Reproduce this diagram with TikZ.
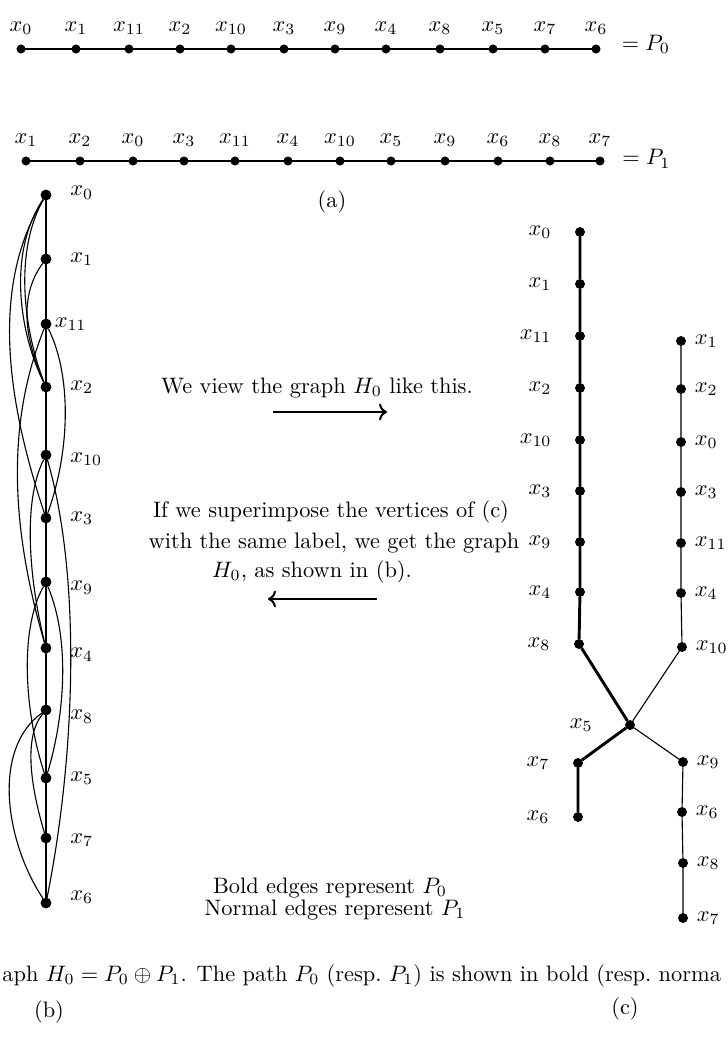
\documentclass[tikz,border=0pt]{standalone}
\usepackage{amsmath, amssymb}
\usepackage{tikz}
\usetikzlibrary{arrows.meta, positioning, calc}

\tikzset{
    dot/.style={draw, circle, fill, inner sep=0pt, minimum size=3.6pt},
    bdot/.style={dot, minimum size=4.4pt},
    cdot/.style={dot, minimum size=4pt},
    bedge/.style={line width=1.3pt},
    nedge/.style={line width=0.5pt},
}

\begin{document}
\begin{tikzpicture}[x=0.447pt, y=-0.447pt]
    \useasboundingbox (0,0) rectangle (728,1044);

    % (a) path P0
    \begin{scope}[label distance=1pt]
    \node[dot, label=above:$x_0$] (u0) at (21,49) {};
    \node[dot, label=above:$x_1$] (u1) at (76,49) {};
    \node[dot, label=above:$x_{11}$] (u11) at (129,49) {};
    \node[dot, label=above:$x_2$] (u2) at (180,49) {};
    \node[dot, label=above:$x_{10}$] (u10) at (231,49) {};
    \node[dot, label=above:$x_3$] (u3) at (284,49) {};
    \node[dot, label=above:$x_9$] (u9) at (335,49) {};
    \node[dot, label=above:$x_4$] (u4) at (386,49) {};
    \node[dot, label=above:$x_8$] (u8) at (440,49) {};
    \node[dot, label=above:$x_5$] (u5) at (493,49) {};
    \node[dot, label=above:$x_7$] (u7) at (545,49) {};
    \node[dot, label=above:$x_6$] (u6) at (596,49) {};
    \end{scope}
    \node[right=6pt of u6, yshift=2pt] (eq0) {$=P_0$};
    \draw[bedge] (u0) -- (u1) -- (u11) -- (u2) -- (u10) -- (u3) -- (u9)
        -- (u4) -- (u8) -- (u5) -- (u7) -- (u6);

    % (a) path P1
    \begin{scope}[label distance=1pt]
    \node[dot, label=above:$x_1$] (v1) at (26,161) {};
    \node[dot, label=above:$x_2$] (v2) at (80,161) {};
    \node[dot, label=above:$x_0$] (v0) at (133,161) {};
    \node[dot, label=above:$x_3$] (v3) at (184,161) {};
    \node[dot, label=above:$x_{11}$] (v11) at (235,161) {};
    \node[dot, label=above:$x_4$] (v4) at (288,161) {};
    \node[dot, label=above:$x_{10}$] (v10) at (340,161) {};
    \node[dot, label=above:$x_5$] (v5) at (391,161) {};
    \node[dot, label=above:$x_9$] (v9) at (445,161) {};
    \node[dot, label=above:$x_6$] (v6) at (498,161) {};
    \node[dot, label=above:$x_8$] (v8) at (550,161) {};
    \node[dot, label=above:$x_7$] (v7) at (600,161) {};
    \end{scope}
    \node[right=4.5pt of v7, yshift=1pt] (eq1) {$=P_1$};
    \draw[line width=0.8pt] (v1) -- (v2) -- (v0) -- (v3) -- (v11) -- (v4) -- (v10)
        -- (v5) -- (v9) -- (v6) -- (v8) -- (v7);
    \node (capa) at (332,202) {(a)};

    % (b) the graph H0
    \begin{scope}[label distance=5pt]
    \node[bdot, label={[yshift=1pt]right:$x_0$}] (b0) at (46,195) {};
    \node[bdot, label=right:$x_1$] (b1) at (46,259) {};
    \node[bdot, label={[label distance=-2pt]right:$x_{11}$}] (b11) at (46,324) {};
    \node[bdot, label=right:$x_2$] (b2) at (46,387) {};
    \node[bdot, label={[yshift=-2pt]right:$x_{10}$}] (b10) at (46,455) {};
    \node[bdot, label=right:$x_3$] (b3) at (46,518) {};
    \node[bdot, label={[yshift=-2.5pt]right:$x_9$}] (b9) at (46,582) {};
    \node[bdot, label={[yshift=-3pt]right:$x_4$}] (b4) at (46,648) {};
    \node[bdot, label={[yshift=-3pt]right:$x_8$}] (b8) at (46,710) {};
    \node[bdot, label=right:$x_5$] (b5) at (46,778) {};
    \node[bdot, label={[yshift=-1pt]right:$x_7$}] (b7) at (46,838) {};
    \node[bdot, label={[yshift=2.5pt]right:$x_6$}] (b6) at (46,903) {};
    \end{scope}
    \draw[bedge] (b0) -- (b1) -- (b11) -- (b2) -- (b10) -- (b3) -- (b9)
        -- (b4) -- (b8) -- (b5) -- (b7) -- (b6);
    \draw[nedge] (b0) .. controls ($(b0)+(-40,60)$) and ($(b2)+(-25,-50)$) .. (b2);
    \draw[nedge] (b0) .. controls ($(b0)+(-34,60)$) and ($(b2)+(-20,-50)$) .. (b2);
    \draw[nedge] (b1) .. controls ($(b1)+(-30,40)$) and ($(b2)+(-18,-40)$) .. (b2);
    \draw[nedge] (b0) .. controls ($(b0)+(-55,90)$) and ($(b3)+(-40,-120)$) .. (b3);
    \draw[nedge] (b11) .. controls ($(b11)+(25,50)$) and ($(b3)+(25,-70)$) .. (b3);
    \draw[nedge] (b11) .. controls ($(b11)+(-40,100)$) and ($(b4)+(-35,-120)$) .. (b4);
    \draw[nedge] (b10) .. controls ($(b10)+(-25,50)$) and ($(b4)+(-15,-60)$) .. (b4);
    \draw[nedge] (b10) .. controls ($(b10)+(35,120)$) and ($(b6)+(30,-150)$) .. (b6);
    \draw[nedge] (b9) .. controls ($(b9)+(-28,50)$) and ($(b5)+(-20,-60)$) .. (b5);
    \draw[nedge] (b9) .. controls ($(b9)+(25,60)$) and ($(b5)+(18,-60)$) .. (b5);
    \draw[nedge] (b8) .. controls ($(b8)+(-25,30)$) and ($(b7)+(-12,-40)$) .. (b7);
    \draw[nedge] (b8) .. controls ($(b8)+(-55,40)$) and ($(b6)+(-40,-60)$) .. (b6);

    % (c) the two paths side by side
    \begin{scope}[label distance=7pt]
    \node[cdot, label=left:$x_0$] (l0) at (580,232) {};
    \node[cdot, label=left:$x_1$] (l1) at (580,284) {};
    \node[cdot, label=left:$x_{11}$] (l11) at (580,336) {};
    \node[cdot, label=left:$x_2$] (l2) at (580,388) {};
    \node[cdot, label=left:$x_{10}$] (l10) at (580,440) {};
    \node[cdot, label=left:$x_3$] (l3) at (580,491) {};
    \node[cdot, label=left:$x_9$] (l9) at (580,542) {};
    \node[cdot, label=left:$x_4$] (l4) at (580,592) {};
    \node[cdot, label=left:$x_8$] (l8) at (579,644) {};
    \node[cdot, label=left:$x_7$] (l7) at (578,763) {};
    \node[cdot, label=left:$x_6$] (l6) at (578,817) {};
    \node[cdot, label={[label distance=11pt]left:$x_5$}] (c5) at (630,725) {};
    \end{scope}
    \begin{scope}[label distance=0.5pt]
    \node[cdot, label=right:$x_1$] (r1) at (681,341) {};
    \node[cdot, label=right:$x_2$] (r2) at (681,389) {};
    \node[cdot, label=right:$x_0$] (r0) at (681,442) {};
    \node[cdot, label=right:$x_3$] (r3) at (681,492) {};
    \node[cdot, label=right:$x_{11}$] (r11) at (681,543) {};
    \node[cdot, label=right:$x_4$] (r4) at (681,593) {};
    \node[cdot, label=right:$x_{10}$] (r10) at (682,647) {};
    \node[cdot, label=right:$x_9$] (r9) at (683,762) {};
    \node[cdot, label=right:$x_6$] (r6) at (682,812) {};
    \node[cdot, label=right:$x_8$] (r8) at (683,863) {};
    \node[cdot, label=right:$x_7$] (r7) at (683,918) {};
    \end{scope}
    \draw[bedge] (l0) -- (l1) -- (l11) -- (l2) -- (l10) -- (l3) -- (l9)
        -- (l4) -- (l8) -- (c5) -- (l7) -- (l6);
    \draw[nedge] (r1) -- (r2) -- (r0) -- (r3) -- (r11) -- (r4) -- (r10)
        -- (c5) -- (r9) -- (r6) -- (r8) -- (r7);

    % texts and arrows in the middle
    \node[anchor=base] (view) at (317,393) {We view the graph $H_0$ like this.};
    \coordinate (ra) at (273,412);
    \coordinate (rb) at (387,412);
    \draw[->, line width=0.9pt] (ra) -- (rb);
    \node[anchor=base] (sup1) at (331,517) {If we superimpose the vertices of (c)};
    \node[anchor=base] (sup2) at (334,548) {with the same label, we get the graph};
    \node[anchor=base] (sup3) at (312,577) {$H_0$, as shown in (b).};
    \coordinate (la) at (377,599);
    \coordinate (lb) at (268,599);
    \draw[->, line width=0.9pt] (la) -- (lb);
    \node[anchor=base] (leg0) at (330,893) {Bold edges represent $P_0$};
    \node[anchor=base] (leg1) at (335,915) {Normal edges represent $P_1$};

    % caption and sub-labels
    \node[anchor=base west, inner sep=0pt] (cap) at (2,981)
        {aph $H_0=P_0\oplus P_1$. The path $P_0$ (resp.\ $P_1$) is shown in bold (resp.\ norma};
    \node (capb) at (49,1012) {(b)};
    \node (capc) at (625,1009) {(c)};
\end{tikzpicture}
\end{document}
